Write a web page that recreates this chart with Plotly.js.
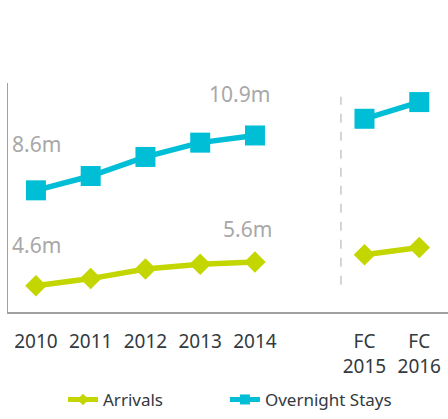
<!DOCTYPE html>
<html>
<head>
<meta charset="utf-8">
<script src="https://cdn.plot.ly/plotly-3.0.1.min.js"></script>
<style>html,body{margin:0;padding:0;background:#fff;}#chart{width:448px;height:419px;}</style>
</head>
<body>
<div id="chart"></div>
<script>
const positions = [0, 1, 2, 3, 4, 6, 7];
const tickLabels = ["2010", "2011", "2012", "2013", "2014", "FC<br>2015", "FC<br>2016"];
const arrivals = [4.6, 4.9, 5.3, 5.5, 5.6, 5.9, 6.2];
const overnightStays = [8.6, 9.2, 10.0, 10.6, 10.9, 11.6, 12.3];
const labelArrivals = ["4.6m", "5.6m"];
const labelOvernight = ["8.6m", "10.9m"];

const green = "#c4d600";
const cyan = "#00bed6";

// break the line between the actual years and the forecast years
function withGap(xs, ys) {
  const gx = [], gy = [];
  for (let i = 0; i < xs.length; i++) {
    if (i > 0 && xs[i] - xs[i - 1] > 1) { gx.push(xs[i - 1] + 1); gy.push(null); }
    gx.push(xs[i]); gy.push(ys[i]);
  }
  return {x: gx, y: gy};
}
const a = withGap(positions, arrivals);
const o = withGap(positions, overnightStays);

const traces = [
  {
    x: a.x, y: a.y, name: "Arrivals", type: "scatter", mode: "lines+markers", connectgaps: false,
    line: {color: green, width: 5.5}, showlegend: false,
    marker: {symbol: "diamond", size: 16.5, color: green}
  },
  {
    x: o.x, y: o.y, name: "Overnight Stays", type: "scatter", mode: "lines+markers", connectgaps: false,
    line: {color: cyan, width: 5.5}, showlegend: false,
    marker: {symbol: "square", size: 20, color: cyan}
  },
  {
    x: [null], y: [null], name: "Arrivals", type: "scatter", mode: "lines+markers", legend: "legend",
    line: {color: green, width: 5}, marker: {symbol: "diamond", size: 9, color: green}
  },
  {
    x: [null], y: [null], name: "Overnight Stays", type: "scatter", mode: "lines+markers", legend: "legend2",
    line: {color: cyan, width: 5}, marker: {symbol: "square", size: 10, color: cyan}
  }
];

const annFont = {family: "Noto Sans, Open Sans, sans-serif", size: 21, color: "#a8a8a8"};
const annotations = [
  {x: positions[0], y: overnightStays[0], text: labelOvernight[0], showarrow: false, xshift: 1, yshift: 46, font: annFont},
  {x: positions[4], y: overnightStays[4], text: labelOvernight[1], showarrow: false, xshift: -15, yshift: 41, font: annFont},
  {x: positions[0], y: arrivals[0], text: labelArrivals[0], showarrow: false, xshift: 1, yshift: 41, font: annFont},
  {x: positions[4], y: arrivals[4], text: labelArrivals[1], showarrow: false, xshift: -7, yshift: 33, font: annFont}
];

const legendBase = {
  orientation: "h", xanchor: "left", y: -0.384, yanchor: "middle",
  font: {size: 17, color: "#333a40"}, itemwidth: 30, itemsizing: "trace", bgcolor: "rgba(0,0,0,0)"
};

const layout = {
  width: 448, height: 419,
  margin: {l: 8, r: 0, t: 83, b: 107, pad: 0},
  paper_bgcolor: "#fff", plot_bgcolor: "#fff",
  showlegend: true,
  font: {family: "Noto Sans, Open Sans, sans-serif", color: "#333a40"},
  xaxis: {
    range: [-0.51, 7.525], tickvals: positions, ticktext: tickLabels,
    showgrid: false, zeroline: false, showline: true, linecolor: "#a0a0a0", linewidth: 1.5,
    ticks: "", ticklabelstandoff: 12,
    tickfont: {size: 19, color: "#333a40"}
  },
  yaxis: {
    range: [3.5, 13.1], showgrid: false, zeroline: false, showticklabels: false,
    showline: true, linecolor: "#a0a0a0", linewidth: 1.5, ticks: ""
  },
  shapes: [
    {type: "line", xref: "x", yref: "y", x0: 5.57, x1: 5.57, y0: 4.64, y1: 12.52,
     line: {color: "#c8c8c8", width: 1.5, dash: "dash"}}
  ],
  annotations: annotations,
  legend: Object.assign({}, legendBase, {x: 0.125}),
  legend2: Object.assign({}, legendBase, {x: 0.493})
};

Plotly.newPlot("chart", traces, layout, {displayModeBar: false, staticPlot: true});
</script>
</body>
</html>
